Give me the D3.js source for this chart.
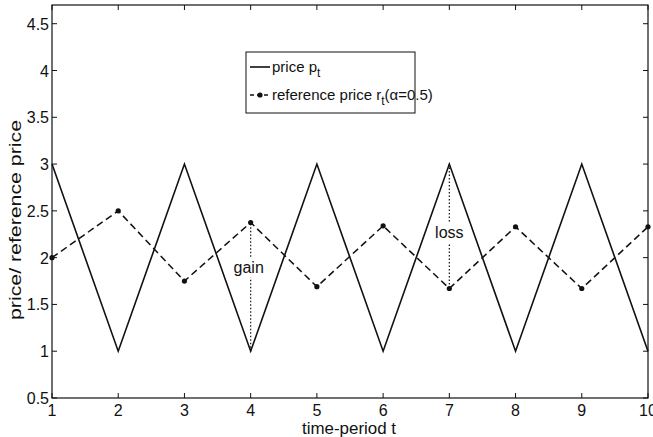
<!DOCTYPE html>
<html><head><meta charset="utf-8">
<script src="https://cdn.jsdelivr.net/npm/d3@7"></script>
<style>body{margin:0;background:#fff}svg{display:block}text{font-family:"Liberation Sans",Arial,sans-serif;fill:#111}</style>
</head><body><svg id="c" width="653" height="437"></svg>
<script>
const periods = [1,2,3,4,5,6,7,8,9,10];
const price = [3,1,3,1,3,1,3,1,3,1];
const refPrice = [2,2.5,1.75,2.375,1.69,2.34,1.67,2.33,1.67,2.33];
const xTicks = [1,2,3,4,5,6,7,8,9,10];
const yTicks = [0.5,1,1.5,2,2.5,3,3.5,4,4.5];
const annotations = [{t:4, label:"gain", v:1.85, dx:-2},{t:7, label:"loss", v:2.22, dx:0}];

const svg = d3.select("#c");
const L=52, R=648, T=5, B=398;
const x = d3.scaleLinear().domain([1,10]).range([L,R]);
const y = d3.scaleLinear().domain([0.5,4.7]).range([B,T]);
const ink="#111";

// frame
svg.append("rect").attr("x",L).attr("y",T).attr("width",R-L).attr("height",B-T)
  .attr("fill","none").attr("stroke",ink).attr("stroke-width",1.2);

// ticks
const tl=5;
xTicks.forEach(v=>{
  svg.append("line").attr("x1",x(v)).attr("x2",x(v)).attr("y1",B).attr("y2",B-tl).attr("stroke",ink);
  svg.append("line").attr("x1",x(v)).attr("x2",x(v)).attr("y1",T).attr("y2",T+tl).attr("stroke",ink);
  svg.append("text").attr("x",x(v)).attr("y",B+18).attr("text-anchor","middle").attr("font-size",16).text(v);
});
yTicks.forEach(v=>{
  svg.append("line").attr("x1",L).attr("x2",L+tl).attr("y1",y(v)).attr("y2",y(v)).attr("stroke",ink);
  svg.append("line").attr("x1",R).attr("x2",R-tl).attr("y1",y(v)).attr("y2",y(v)).attr("stroke",ink);
  svg.append("text").attr("x",L-3).attr("y",y(v)+6).attr("text-anchor","end").attr("font-size",16).text(v);
});

// axis labels
svg.append("text").attr("x",349).attr("y",434).attr("text-anchor","middle").attr("font-size",16)
  .attr("textLength",94).attr("lengthAdjust","spacingAndGlyphs").text("time-period t");
svg.append("text").attr("transform","translate(21,220) rotate(-90)").attr("text-anchor","middle").attr("font-size",17)
  .attr("textLength",200).attr("lengthAdjust","spacingAndGlyphs").text("price/ reference price");

// annotation dotted lines and labels
annotations.forEach(a=>{
  const i = periods.indexOf(a.t);
  svg.append("line").attr("x1",x(a.t)).attr("x2",x(a.t)).attr("y1",y(price[i])).attr("y2",y(refPrice[i]))
    .attr("stroke",ink).attr("stroke-width",1.2).attr("stroke-dasharray","1.5,2");
  svg.append("rect").attr("x",x(a.t)+a.dx-16).attr("y",y(a.v)-14).attr("width",32).attr("height",20).attr("fill","#fff");
  svg.append("text").attr("x",x(a.t)+a.dx).attr("y",y(a.v)+1).attr("text-anchor","middle").attr("font-size",16).text(a.label);
});

const line = d3.line().x((d,i)=>x(periods[i])).y(d=>y(d));
svg.append("path").datum(price).attr("d",line).attr("fill","none").attr("stroke",ink).attr("stroke-width",1.6);
svg.append("path").datum(refPrice).attr("d",line).attr("fill","none").attr("stroke",ink).attr("stroke-width",1.5).attr("stroke-dasharray","7,4");
svg.selectAll("circle.r").data(refPrice).enter().append("circle")
  .attr("cx",(d,i)=>x(periods[i])).attr("cy",d=>y(d)).attr("r",2.6).attr("fill",ink);

// legend
const lg = svg.append("g");
lg.append("rect").attr("x",246).attr("y",52).attr("width",169).attr("height",61).attr("fill","#fff").attr("stroke",ink).attr("stroke-width",1);
lg.append("line").attr("x1",250).attr("x2",270).attr("y1",67).attr("y2",67).attr("stroke",ink).attr("stroke-width",1.6);
const t1 = lg.append("text").attr("x",272).attr("y",72).attr("font-size",15);
t1.append("tspan").text("price p");
t1.append("tspan").attr("dy",5).attr("font-size",12).text("t");
lg.append("line").attr("x1",250).attr("x2",270).attr("y1",95).attr("y2",95).attr("stroke",ink).attr("stroke-width",1.5).attr("stroke-dasharray","4,3");
lg.append("circle").attr("cx",260).attr("cy",95).attr("r",2.6).attr("fill",ink);
const t2 = lg.append("text").attr("x",272).attr("y",100).attr("font-size",15);
t2.append("tspan").text("reference price r");
t2.append("tspan").attr("dy",5).attr("font-size",12).text("t");
t2.append("tspan").attr("dy",-5).text("(α=0.5)");
</script></body></html>
